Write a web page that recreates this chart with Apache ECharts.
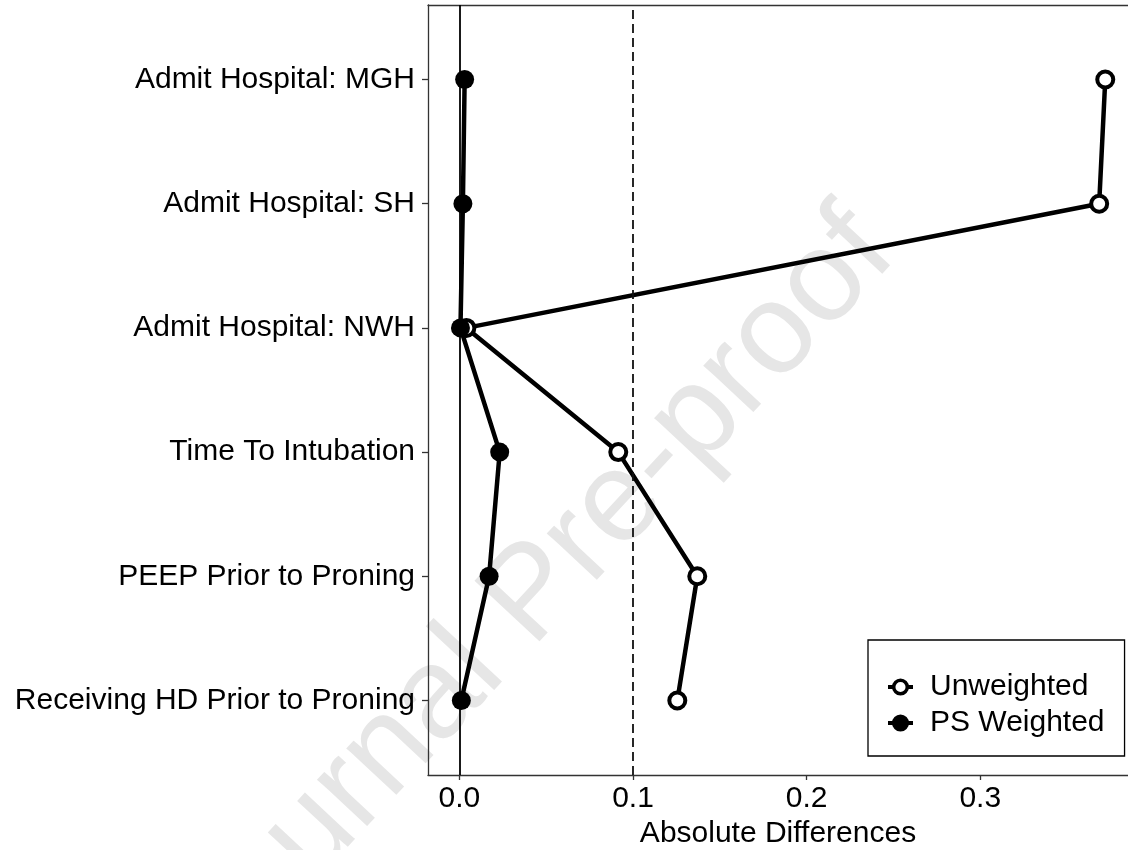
<!DOCTYPE html>
<html><head><meta charset="utf-8">
<script src="https://cdn.jsdelivr.net/npm/echarts@6/dist/echarts.min.js"></script>
<style>html,body{margin:0;padding:0;background:#fff}#c{width:1128px;height:850px}</style>
</head><body><div id="c"></div>
<script>
const categories = ['Admit Hospital: MGH','Admit Hospital: SH','Admit Hospital: NWH','Time To Intubation','PEEP Prior to Proning','Receiving HD Prior to Proning'];
const unweighted = [0.372, 0.3685, 0.004, 0.0915, 0.137, 0.1255];
const psWeighted = [0.003, 0.002, 0.0006, 0.0232, 0.0171, 0.0011];
const xTickValues = [0, 0.1, 0.2, 0.3];
const zeroLine = 0;
const thresholdLine = 0.1;
const seriesNames = ['Unweighted', 'PS Weighted'];
const axisTitle = 'Absolute Differences';
const watermark = 'Journal Pre-proof';

const FONT = '"Liberation Sans", Arial, Helvetica, sans-serif';
const n = categories.length;
const yPos = categories.map((c, i) => n - i);
const toPoints = arr => arr.map((v, i) => [v, yPos[i]]);
const X_MIN = -0.0181, X_MAX = 0.3851;
const frame = {show: true, onZero: false, lineStyle: {color: '#333', width: 1.3}};

const chart = echarts.init(document.getElementById('c'), null, {renderer: 'canvas'});
chart.setOption({
  animation: false,
  backgroundColor: '#fff',
  textStyle: {fontFamily: FONT},
  graphic: [{
    type: 'text', x: 533, y: 596, rotation: 47 * Math.PI / 180, z: -10, silent: true,
    style: {text: watermark, font: '129px ' + FONT, fill: '#e6e6e6', align: 'center', verticalAlign: 'middle'}
  }],
  grid: {left: 428, top: 5, right: 0, height: 770, show: false, containLabel: false, outerBoundsMode: 'none'},
  legend: {
    orient: 'vertical', left: 868, top: 640,
    borderColor: '#000', borderWidth: 1.3, padding: [32, 20, 18, 18],
    itemGap: 6, itemWidth: 25, itemHeight: 17,
    lineStyle: {width: 4},
    itemStyle: {borderWidth: 3.5},
    textStyle: {fontSize: 30, color: '#000', fontFamily: FONT, padding: [0, 0, 0, 12]},
    data: seriesNames
  },
  xAxis: [{
    type: 'value', min: X_MIN, max: X_MAX, position: 'bottom',
    splitLine: {show: false}, axisLine: frame,
    axisTick: {show: true, customValues: xTickValues, length: 5, lineStyle: {color: '#333', width: 1.3}},
    axisLabel: {customValues: xTickValues, formatter: v => v.toFixed(1), fontSize: 30, color: '#000', margin: 9, fontFamily: FONT},
    name: axisTitle, nameLocation: 'middle', nameGap: 44,
    nameTextStyle: {fontSize: 30, color: '#000', fontFamily: FONT}
  }, {
    type: 'value', min: X_MIN, max: X_MAX, position: 'top',
    splitLine: {show: false}, axisLine: frame,
    axisTick: {show: false}, axisLabel: {show: false}
  }],
  yAxis: {
    type: 'value', min: 0.4, max: 6.6, position: 'left',
    splitLine: {show: false}, axisLine: frame,
    axisTick: {show: true, customValues: yPos, length: 6, lineStyle: {color: '#333', width: 1.3}},
    axisLabel: {customValues: yPos, formatter: v => categories[n - Math.round(v)], fontSize: 30, color: '#000', margin: 13, fontFamily: FONT}
  },
  series: [
    {
      name: seriesNames[0], type: 'line', data: toPoints(unweighted),
      symbol: 'circle', symbolSize: 16,
      lineStyle: {color: '#000', width: 4.5},
      itemStyle: {color: '#fff', borderColor: '#000', borderWidth: 4},
      z: 3,
      markLine: {
        silent: true, symbol: ['none', 'none'], label: {show: false},
        data: [
          {xAxis: zeroLine, lineStyle: {type: 'solid', width: 1.8, color: '#000'}},
          {xAxis: thresholdLine, lineStyle: {type: [9, 5], width: 1.8, color: '#111'}}
        ]
      }
    },
    {
      name: seriesNames[1], type: 'line', data: toPoints(psWeighted),
      symbol: 'circle', symbolSize: 19,
      lineStyle: {color: '#000', width: 4.5},
      itemStyle: {color: '#000', borderColor: '#000', borderWidth: 0},
      z: 4
    }
  ]
});
</script></body></html>
